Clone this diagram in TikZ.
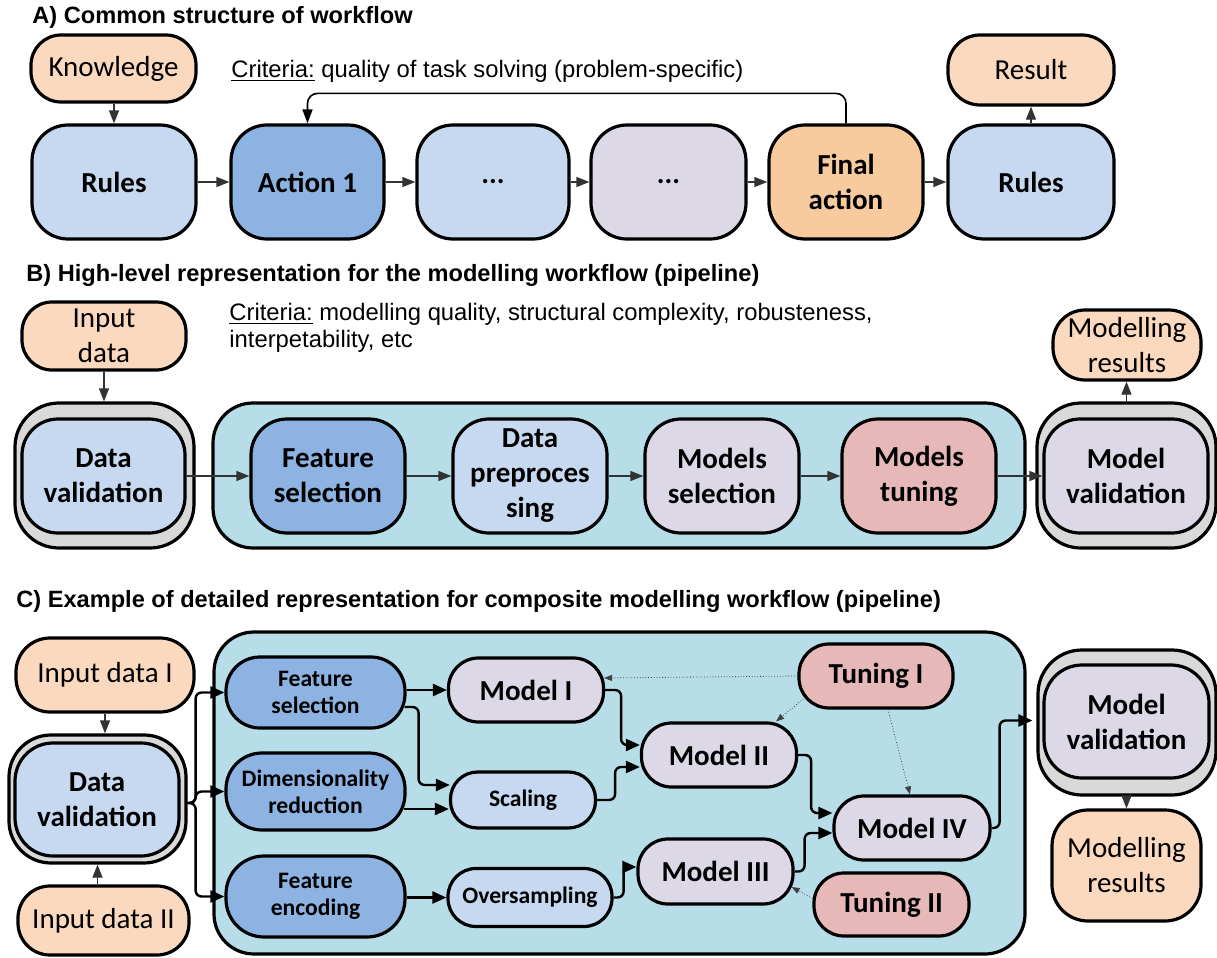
\documentclass[tikz,border=0pt]{standalone}
\usepackage{fontspec}
\setmainfont{Carlito}
\newfontfamily\arialf{Liberation Sans}
\usetikzlibrary{arrows.meta,calc}
\definecolor{cpeach}{HTML}{FBD9BE}
\definecolor{corange}{HTML}{F8CB9F}
\definecolor{clblue}{HTML}{C6D9F0}
\definecolor{cmblue}{HTML}{8DB3E2}
\definecolor{clav}{HTML}{DDD8E6}
\definecolor{crose}{HTML}{E6B9B8}
\definecolor{ccyan}{HTML}{B7DDE8}
\definecolor{cgray}{HTML}{D9D9D9}
\newcommand{\regbig}{\fontsize{14.5}{17.5}\selectfont}
\newcommand{\boldbig}{\bfseries\fontsize{14.5}{17.5}\selectfont}
\newcommand{\boldsmall}{\bfseries\fontsize{11.8}{13.5}\selectfont}
\begin{document}
\begin{tikzpicture}[x=0.5pt,y=-0.5pt,
  box/.style={draw=black, line width=1.6pt, inner sep=0pt, align=center},
  bigbox/.style={box, minimum height=57pt, rounded corners=18pt},
  ttl/.style={anchor=base west, inner sep=0pt, font=\arialf\bfseries\fontsize{11.8}{14}\selectfont},
  crit/.style={anchor=base west, inner sep=0pt, align=left, font=\arialf\fontsize{11.9}{13.5}\selectfont},
  conA/.style={draw=black!80, line width=0.6pt, -{Triangle[length=6.5pt,width=5pt]}},
  fbA/.style={draw=black, line width=0.8pt, rounded corners=5pt, -{Triangle[length=7pt,width=5pt]}},
  conC/.style={draw=black, line width=1.2pt, rounded corners=3pt, -{Triangle[length=7pt,width=6pt]}},
  dotC/.style={draw=black!75, line width=0.4pt, densely dotted, -{Triangle[length=4pt,width=3pt]}}
]
\useasboundingbox (0,0) rectangle (1217,958);
\fill[white] (0,0) rectangle (1217,958);

% ---------- A ----------
\node[ttl] (titleA) at (32,24) {A) Common structure of workflow};
\node[crit] (critA) at (231,77) {\underline{Criteria:} quality of task solving (problem-specific)};
\node[box, fill=cpeach, font=\regbig, minimum width=82.5pt, minimum height=33.5pt, rounded corners=15pt] (know) at (113.5,68.5) {Knowledge};
\node[bigbox, fill=clblue, font=\boldbig, minimum width=82pt] (rules1) at (114,182) {Rules};
\node[bigbox, fill=cmblue, font=\boldbig, minimum width=76.5pt] (act1) at (307.5,182) {Action 1};
\node[bigbox, fill=clblue, font=\boldbig, minimum width=76pt] (dots1) at (493,182) {...};
\node[bigbox, fill=clav, font=\boldbig, minimum width=77.5pt] (dots2) at (668.5,182) {...};
\node[bigbox, fill=corange, font=\boldbig, minimum width=77pt] (final) at (846,182) {Final\\action};
\node[bigbox, fill=clblue, font=\boldbig, minimum width=83pt] (rules2) at (1031,182) {Rules};
\node[box, fill=cpeach, font=\regbig, minimum width=83pt, minimum height=35pt, rounded corners=16pt] (result) at (1031,70) {Result};

\draw[conA] (know.south -| rules1.north) -- (rules1.north);
\draw[conA] (rules1.east) -- (act1.west);
\draw[conA] (act1.east) -- (dots1.west);
\draw[conA] (dots1.east) -- (dots2.west);
\draw[conA] (dots2.east) -- (final.west);
\draw[conA] (final.east) -- (rules2.west);
\draw[conA] (rules2.north) -- (result.south);
\draw[fbA] (final.north) -- ++(0,-30) -| (act1.north);

% ---------- B ----------
\node[ttl] (titleB) at (26,281) {B) High-level representation for the modelling workflow (pipeline)};
\node[crit] (critB) at (229,347) {\underline{Criteria:} modelling quality, structural complexity, robusteness,\\interpetability, etc};
\node[box, fill=cpeach, font=\regbig, minimum width=82pt, minimum height=34pt, rounded corners=15pt] (indata) at (104,336) {Input\\data};
\node[box, fill=cgray, minimum width=89.5pt, minimum height=72.5pt, rounded corners=22pt] (dvBo) at (104.5,475.5) {};
\node[bigbox, fill=clblue, font=\boldbig, minimum width=81.5pt] (dvBi) at (103.5,476) {Data\\validation};
\node[box, fill=ccyan, minimum width=406pt, minimum height=72.5pt, rounded corners=20pt] (cyanB) at (619,475.5) {};
\node[bigbox, fill=cmblue, font=\boldbig, minimum width=77pt] (fsB) at (328,476) {Feature\\selection};
\node[bigbox, fill=clblue, font=\boldbig, minimum width=77pt] (dpB) at (530,476) {Data\\preproces\\sing};
\node[bigbox, fill=clav, font=\boldbig, minimum width=77pt] (msB) at (722,476) {Models\\selection};
\node[bigbox, fill=crose, font=\boldbig, minimum width=77pt] (mtB) at (919,476) {Models\\tuning};
\node[box, fill=cgray, minimum width=89.5pt, minimum height=72.5pt, rounded corners=22pt] (mvBo) at (1126.5,475.5) {};
\node[bigbox, fill=clav, font=\boldbig, minimum width=82pt] (mvBi) at (1126,476) {Model\\validation};
\node[box, fill=cpeach, font=\regbig, minimum width=74pt, minimum height=35pt, rounded corners=16pt] (mrB) at (1127,345) {Modelling\\results};

\draw[conA] (indata.south) -- (indata.south |- dvBo.north);
\draw[conA] (dvBi.east) -- (fsB.west);
\draw[conA] (fsB.east) -- (dpB.west);
\draw[conA] (dpB.east) -- (msB.west);
\draw[conA] (msB.east) -- (mtB.west);
\draw[conA] (mtB.east) -- (mvBi.west);
\draw[conA] (mvBo.north) -- (mvBo.north |- mrB.south);

% ---------- C ----------
\node[ttl] (titleC) at (16,607) {C) Example of detailed representation for composite modelling workflow (pipeline)};
\node[box, fill=cpeach, font=\regbig, minimum width=89pt, minimum height=37pt, rounded corners=17pt] (in1) at (105,675) {Input data I};
\node[box, fill=cgray, minimum width=88.5pt, minimum height=64pt, rounded corners=21pt] (dvCo) at (97.5,799) {};
\node[box, fill=clblue, font=\boldbig, minimum width=82pt, minimum height=56.5pt, rounded corners=19pt] (dvCi) at (97,799.5) {Data\\validation};
\node[box, fill=cpeach, font=\regbig, minimum width=85.5pt, minimum height=34.5pt, rounded corners=16pt] (in2) at (103.5,920.5) {Input data II};
\node[box, fill=ccyan, minimum width=405.5pt, minimum height=161pt, rounded corners=20pt] (cyanC) at (619.5,793) {};
\node[box, fill=cmblue, font=\boldsmall, minimum width=89.5pt, minimum height=35.5pt, rounded corners=17pt] (fsC) at (315.5,692.5) {Feature\\selection};
\node[box, fill=cmblue, font=\boldsmall, minimum width=89.5pt, minimum height=38.5pt, rounded corners=18pt] (drC) at (315.5,791.5) {Dimensionality\\reduction};
\node[box, fill=cmblue, font=\boldsmall, minimum width=89.5pt, minimum height=40.5pt, rounded corners=19pt] (feC) at (315.5,896.5) {Feature\\encoding};
\node[box, fill=clav, font=\boldbig, minimum width=77.5pt, minimum height=32pt, rounded corners=15pt] (m1) at (526,690) {Model I};
\node[box, fill=clblue, font=\boldsmall, minimum width=72.5pt, minimum height=28pt, rounded corners=13.5pt] (sc) at (523,800) {Scaling};
\node[box, fill=clblue, font=\boldsmall, minimum width=82pt, minimum height=29pt, rounded corners=14pt] (os) at (530,897.5) {Oversampling};
\node[box, fill=clav, font=\boldbig, minimum width=77.5pt, minimum height=32pt, rounded corners=15pt] (m2) at (719,755) {Model II};
\node[box, fill=clav, font=\boldbig, minimum width=77.5pt, minimum height=32.5pt, rounded corners=15pt] (m3) at (715.5,871.5) {Model III};
\node[box, fill=clav, font=\boldbig, minimum width=78pt, minimum height=32pt, rounded corners=15pt] (m4) at (912,828) {Model IV};
\node[box, fill=crose, font=\boldbig, minimum width=77pt, minimum height=32pt, rounded corners=15pt] (t1) at (876,676) {Tuning I};
\node[box, fill=crose, font=\boldbig, minimum width=77.5pt, minimum height=31.5pt, rounded corners=15pt] (t2) at (891.5,904.5) {Tuning II};
\node[box, fill=cgray, minimum width=89pt, minimum height=72.5pt, rounded corners=22pt] (mvCo) at (1127,722.5) {};
\node[box, fill=clav, font=\boldbig, minimum width=82.5pt, minimum height=56.5pt, rounded corners=19pt] (mvCi) at (1126.5,721.5) {Model\\validation};
\node[box, fill=cpeach, font=\regbig, minimum width=74.5pt, minimum height=55.5pt, rounded corners=18pt] (mrC) at (1126.5,865.5) {Modelling\\results};

\coordinate (dvout) at ($(dvCo.east)+(0,4)$);
\draw[conA] (in1.south) -- (in1.south |- dvCo.north);
\draw[conA] (in2.north -| dvCo.south) -- (dvCo.south);
\draw[conC] (dvout) -- ++(8,0) |- (fsC.west);
\draw[conC] (dvout) -- ++(8,0) |- (drC.west);
\draw[conC] (dvout) -- ++(8,0) |- (feC.west);
\draw[conC] (m1.west -| fsC.east) -- (m1.west);
\draw[conC] ($(fsC.east)+(-2,14.5)$) -- ++(14,0) |- ($(sc.west)+(1,-15)$);
\draw[conC] ($(drC.east)+(-3,17.5)$) -- ($(sc.west)+(0,9)$);
\draw[conC] (os.west -| feC.east) -- (os.west);
\draw[conC] (m1.east) -- ++(16,0) |- ($(m2.west)+(0,-10)$);
\draw[conC] (sc.east) -- ++(18,0) |- ($(m2.west)+(0,12)$);
\draw[conC] (os.east) -- ++(10,0) |- ($(m3.west)+(0,-4.5)$);
\draw[conC] (m2.east) -- ++(13,0) |- ($(m4.west)+(0,-15)$);
\draw[conC] (m3.east) -- ++(10,0) |- ($(m4.west)+(0,5)$);
\draw[conC] (m4.east) -- ++(8,0) |- ($(mvCo.west)+(-4,-2)$);
\draw[dotC] (t1.west) -- ($(m1.east)+(-1,-12)$);
\draw[dotC] ($(t1.west)+(6,23)$) -- ($(m2.north east)+(-22,0)$);
\draw[dotC] ($(t1.south)+(12,0)$) -- ($(m4.north)+(-2,0)$);
\draw[dotC] ($(t2.west)+(0,-6)$) -- ($(m3.east)+(-3,15.5)$);
\draw[conA] (mvCo.south -| mrC.north) -- (mrC.north);
\end{tikzpicture}
\end{document}
